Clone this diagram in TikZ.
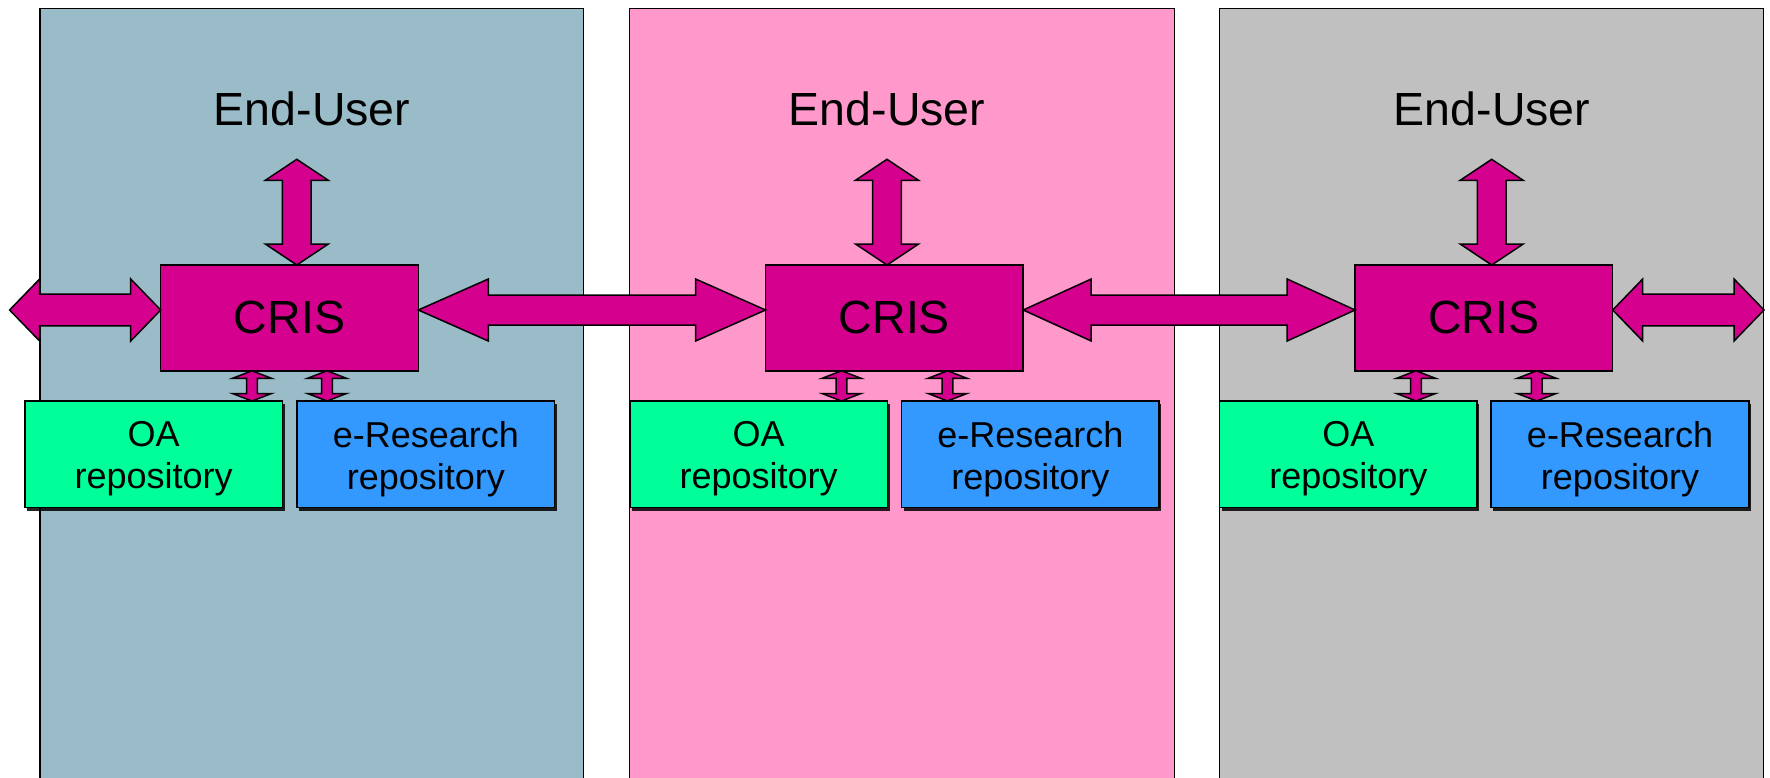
\documentclass[tikz,border=0pt]{standalone}
\usepackage{fontspec}
\setmainfont{Liberation Sans}
\usetikzlibrary{calc,shadows}
\definecolor{panelA}{RGB}{154,187,200}
\definecolor{panelB}{RGB}{255,153,204}
\definecolor{panelC}{RGB}{192,192,192}
\definecolor{crisfill}{RGB}{214,0,143}
\definecolor{oafill}{RGB}{0,255,153}
\definecolor{erfill}{RGB}{51,153,255}
\tikzset{
  hblock/.style n args={3}{to path={-- ($(\tikztostart)+(#1,#2)$) -- ($(\tikztostart)+(#1,#3)$) -- ($(\tikztotarget)+(-#1,#3)$) -- ($(\tikztotarget)+(-#1,#2)$) -- (\tikztotarget) -- ($(\tikztotarget)+(-#1,-#2)$) -- ($(\tikztotarget)+(-#1,-#3)$) -- ($(\tikztostart)+(#1,-#3)$) -- ($(\tikztostart)+(#1,-#2)$) -- cycle}},
  vblock/.style n args={3}{to path={-- ($(\tikztostart)+(#2,#1)$) -- ($(\tikztostart)+(#3,#1)$) -- ($(\tikztotarget)+(#3,-#1)$) -- ($(\tikztotarget)+(#2,-#1)$) -- (\tikztotarget) -- ($(\tikztotarget)+(-#2,-#1)$) -- ($(\tikztotarget)+(-#3,-#1)$) -- ($(\tikztostart)+(-#3,#1)$) -- ($(\tikztostart)+(-#2,#1)$) -- cycle}},
  blockarrow/.style={draw=black, fill=crisfill, line width=0.75pt, line join=miter},
  panel/.style={draw=black, line width=0.75pt},
  eulabel/.style={inner sep=0pt, font=\fontsize{23.25}{27}\selectfont, anchor=base},
  crisbox/.style={draw=black, fill=crisfill, line width=0.75pt, minimum width=128.8pt, minimum height=52.9pt, inner sep=0pt, outer sep=0pt, font=\fontsize{23.25}{27}\selectfont},
  repobox/.style={draw=black, line width=0.75pt, minimum width=128.8pt, minimum height=53.3pt, inner sep=0pt, outer sep=0pt,
    drop shadow={shadow xshift=1pt, shadow yshift=-1.5pt, fill=black, opacity=0.85}},
  repotext/.style={inner sep=0pt, align=center, font=\fontsize{18}{21}\selectfont},
}
\begin{document}
\begin{tikzpicture}[x=0.5pt, y=-0.5pt]
\useasboundingbox (0,0) rectangle (1770,777);
\clip (0,0) rectangle (1770,777);
\fill[white] (0,0) rectangle (1770,777);
% panels
\path[panel, fill=panelA] (40.2,8.3) rectangle (583.6,800);
\path[panel, fill=panelB] (629.4,8.3) rectangle (1174.3,800);
\path[panel, fill=panelC] (1219.5,8.3) rectangle (1763.5,800);
% labels
\node[eulabel] (euA) at (312,125) {End-User};
\node[eulabel] (euB) at (887,125) {End-User};
\node[eulabel] (euC) at (1492,125) {End-User};
% CRIS boxes
\node[crisbox] (crisA) at (289.5,317.9) {CRIS};
\node[crisbox] (crisB) at (894.4,317.9) {CRIS};
\node[crisbox] (crisC) at (1483.9,317.9) {CRIS};
% repository boxes
\node[repobox, fill=oafill] (oaA) at (153.7,454.3) {};
\node[repobox, fill=erfill] (erA) at (425.8,454.3) {};
\node[repobox, fill=oafill] (oaB) at (758.7,454.3) {};
\node[repobox, fill=erfill] (erB) at (1030.4,454.3) {};
\node[repobox, fill=oafill] (oaC) at (1348.4,454.3) {};
\node[repobox, fill=erfill] (erC) at (1620,454.3) {};
\node[repotext] (oaAt) at ([yshift=-2.35pt]oaA.center) {OA\\repository};
\node[repotext] (erAt) at ([yshift=-2.35pt]erA.center) {e-Research\\repository};
\node[repotext] (oaBt) at ([yshift=-2.35pt]oaB.center) {OA\\repository};
\node[repotext] (erBt) at ([yshift=-2.35pt]erB.center) {e-Research\\repository};
\node[repotext] (oaCt) at ([yshift=-2.35pt]oaC.center) {OA\\repository};
\node[repotext] (erCt) at ([yshift=-2.35pt]erC.center) {e-Research\\repository};
% free ends
\coordinate (leftEnd) at (9.6,310);
\coordinate (rightEnd) at (1764,310);
\coordinate (uA) at (296.8,159.3);
\coordinate (uB) at (887,159.3);
\coordinate (uC) at (1491.7,159.3);
\coordinate (sA1) at (252,0);
\coordinate (sA2) at (327,0);
\coordinate (sB1) at (841.5,0);
\coordinate (sB2) at (947.5,0);
\coordinate (sC1) at (1416,0);
\coordinate (sC2) at (1536.7,0);
% horizontal block arrows
\draw[blockarrow] (leftEnd) to[hblock={30}{31}{15.8}] ([yshift=3.95pt]crisA.west);
\draw[blockarrow] ([yshift=3.95pt]crisA.east) to[hblock={70}{31}{15}] ([yshift=3.95pt]crisB.west);
\draw[blockarrow] ([yshift=3.95pt]crisB.east) to[hblock={68}{31}{15}] ([yshift=3.95pt]crisC.west);
\draw[blockarrow] ([yshift=3.95pt]crisC.east) to[hblock={30}{31}{15.8}] (rightEnd);
% vertical block arrows to End-User
\draw[blockarrow] (uA) to[vblock={21}{31.5}{14.4}] (crisA.north -| uA);
\draw[blockarrow] (uB) to[vblock={21}{31.5}{14.4}] (crisB.north -| uB);
\draw[blockarrow] (uC) to[vblock={21}{31.5}{14.4}] (crisC.north -| uC);
% small arrows to repositories
\draw[blockarrow] (crisA.south -| sA1) to[vblock={7.5}{19.5}{5.3}] (oaA.north -| sA1);
\draw[blockarrow] (crisA.south -| sA2) to[vblock={7.5}{19.5}{5.3}] (erA.north -| sA2);
\draw[blockarrow] (crisB.south -| sB1) to[vblock={7.5}{19.5}{5.3}] (oaB.north -| sB1);
\draw[blockarrow] (crisB.south -| sB2) to[vblock={7.5}{19.5}{5.3}] (erB.north -| sB2);
\draw[blockarrow] (crisC.south -| sC1) to[vblock={7.5}{19.5}{5.3}] (oaC.north -| sC1);
\draw[blockarrow] (crisC.south -| sC2) to[vblock={7.5}{19.5}{5.3}] (erC.north -| sC2);
\end{tikzpicture}
\end{document}
